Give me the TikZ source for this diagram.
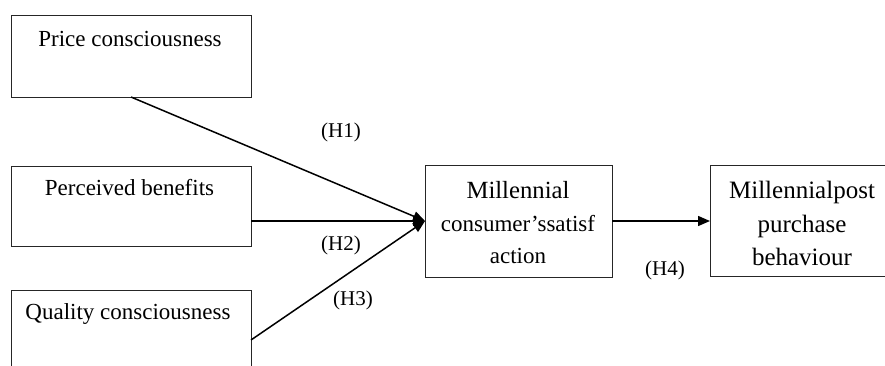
\documentclass[tikz,border=0pt]{standalone}
\usepackage{fontspec}
\setmainfont{Liberation Serif}
\usetikzlibrary{arrows.meta}
\begin{document}
\begin{tikzpicture}[x=1pt,y=1pt,
  box/.style={draw=black!85, line width=0.9pt, inner sep=0pt, outer sep=0pt},
  arr/.style={line width=1.5pt, -{Triangle[length=12pt,width=10pt]}},
  hyp/.style={font=\fontsize{21}{24}\selectfont, inner sep=0pt},
  btxt/.style={font=\fontsize{23}{26}\selectfont, inner sep=0pt, anchor=center}
]
\useasboundingbox (0,0) rectangle (885,365);
\clip (0,0) rectangle (885,365);
% left boxes
\node[box, minimum width=240pt, minimum height=82pt] (pc) at (131,309) {};
\node[btxt] (pct) at (130,326) {Price consciousness};
\node[box, minimum width=240pt, minimum height=80pt] (pb) at (131,159) {};
\node[btxt] (pbt) at (129.5,177) {Perceived benefits};
\node[box, minimum width=240pt, minimum height=100pt] (qc) at (131,25) {};
\node[btxt] (qct) at (128,51) {Quality consciousness};
% middle box
\node[box, minimum width=187pt, minimum height=112pt] (ms) at (518.5,144) {};
\node[inner sep=0pt, align=center, font=\fontsize{23}{32.5}\selectfont] (mst) at (518,142)
  {{\fontsize{24.7}{32.5}\selectfont Millennial}\\consumer’ssatisf\\action};
% right box
\node[box, minimum width=210pt, minimum height=111pt] (pp) at (815,144.5) {};
\node[inner sep=0pt, align=center, font=\fontsize{25}{33.5}\selectfont] (ppt) at (802,141.5)
  {Millennialpost\\purchase\\behaviour};
% connectors
\draw[arr] (pc.south) -- (ms.west);
\draw[arr] (pb.east |- ms.west) -- (ms.west);
\draw[arr] (qc.east) -- (ms.west);
\draw[arr] (ms.east) -- (ms.east -| pp.west);
% labels
\node[hyp] (h1) at (341,233) {(H1)};
\node[hyp] (h2) at (341,120) {(H2)};
\node[hyp] (h3) at (353,65) {(H3)};
\node[hyp] (h4) at (665,95) {(H4)};
\end{tikzpicture}
\end{document}
